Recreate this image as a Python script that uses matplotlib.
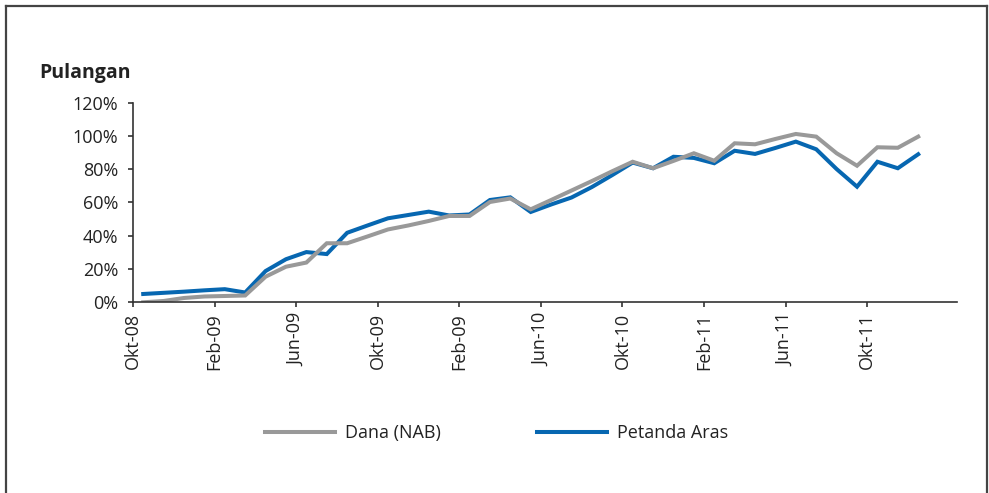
import matplotlib
matplotlib.use("Agg")
import matplotlib.pyplot as plt
from matplotlib.lines import Line2D

plt.rcParams['font.family'] = ['Open Sans', 'DejaVu Sans']

# Monthly data, starting Okt-08 (month index 0)
bulan = list(range(39))
dana_nab = [0.0, 0.8, 2.6, 3.5, 3.8, 4.1, 15.4, 21.4, 23.9, 35.5,
            35.5, 39.6, 43.8, 46.2, 48.9, 51.9, 51.9, 60.3, 62.4, 55.9,
            61.5, 67.2, 72.9, 78.8, 84.5, 80.6, 85.0, 89.6, 85.1, 95.6,
            95.0, 98.2, 101.2, 99.6, 89.6, 82.1, 93.2, 92.9, 99.6]
petanda_aras = [5.0, 5.7, 6.4, 7.2, 7.9, 5.9, 18.8, 25.9, 30.2, 29.0,
                41.8, 46.2, 50.5, 52.5, 54.5, 52.2, 52.8, 61.5, 63.1, 54.3,
                58.8, 63.0, 69.3, 76.5, 84.0, 80.6, 87.5, 86.8, 83.6, 91.1,
                89.2, 92.8, 96.6, 92.0, 80.1, 69.5, 84.5, 80.6, 89.0]
tick_labels = ["Okt-08", "Feb-09", "Jun-09", "Okt-09", "Feb-09",
               "Jun-10", "Okt-10", "Feb-11", "Jun-11", "Okt-11"]
y_ticks = [0, 20, 40, 60, 80, 100, 120]

GRAY = "#999999"
BLUE = "#0767b1"
AX = "#333333"

fig = plt.figure(figsize=(9.89, 4.93), dpi=100)
ax = fig.add_axes([0.1345, 0.3868, 0.9676 - 0.1345, 0.7917 - 0.3868])

x = [m + 0.5 for m in bulan]
lb, = ax.plot(x, petanda_aras, color=BLUE, lw=2.9, solid_joinstyle='miter', label="Petanda Aras", zorder=2)
lg, = ax.plot(x, dana_nab, color=GRAY, lw=2.9, solid_joinstyle='miter', label="Dana (NAB)", zorder=3)

ax.set_xlim(0, 40.4)
ax.set_ylim(0, 120)
ax.set_xticks([4 * i for i in range(len(tick_labels))])
ax.set_xticklabels(tick_labels, rotation=90)
ax.set_yticks(y_ticks)
ax.set_yticklabels([f"{v}%" for v in y_ticks])

for s in ["top", "right"]:
    ax.spines[s].set_visible(False)
for s in ["left", "bottom"]:
    ax.spines[s].set_color(AX)
    ax.spines[s].set_linewidth(1.2)
    ax.spines[s].set_zorder(5)
ax.tick_params(axis='both', colors=AX, labelcolor="#222222", labelsize=13,
               length=3.6, width=1.2, direction='out')
ax.tick_params(axis='y', pad=7)
ax.tick_params(axis='x', pad=4)

fig.text(39 / 989, 1 - 78 / 493, "Pulangan", fontsize=14, fontweight='bold',
         color="#222222", ha='left', va='baseline')

leg = fig.legend(handles=[lg, lb], labels=["Dana (NAB)", "Petanda Aras"],
                 loc='center', bbox_to_anchor=(496.5 / 989, 1 - 433 / 493),
                 ncol=2, frameon=False, fontsize=13, handlelength=3.9,
                 handletextpad=0.55, columnspacing=5.3)
for t in leg.get_texts():
    t.set_color("#222222")

# outer frame (left, top, right)
fr = dict(color="#444444", lw=1.6, transform=fig.transFigure, clip_on=False)
fig.add_artist(Line2D([6 / 989, 6 / 989], [0, 1 - 6 / 493], **fr))
fig.add_artist(Line2D([6 / 989, 987 / 989], [1 - 6 / 493, 1 - 6 / 493], **fr))
fig.add_artist(Line2D([987 / 989, 987 / 989], [0, 1 - 6 / 493], **fr))

fig.savefig("out.png", dpi=100)
